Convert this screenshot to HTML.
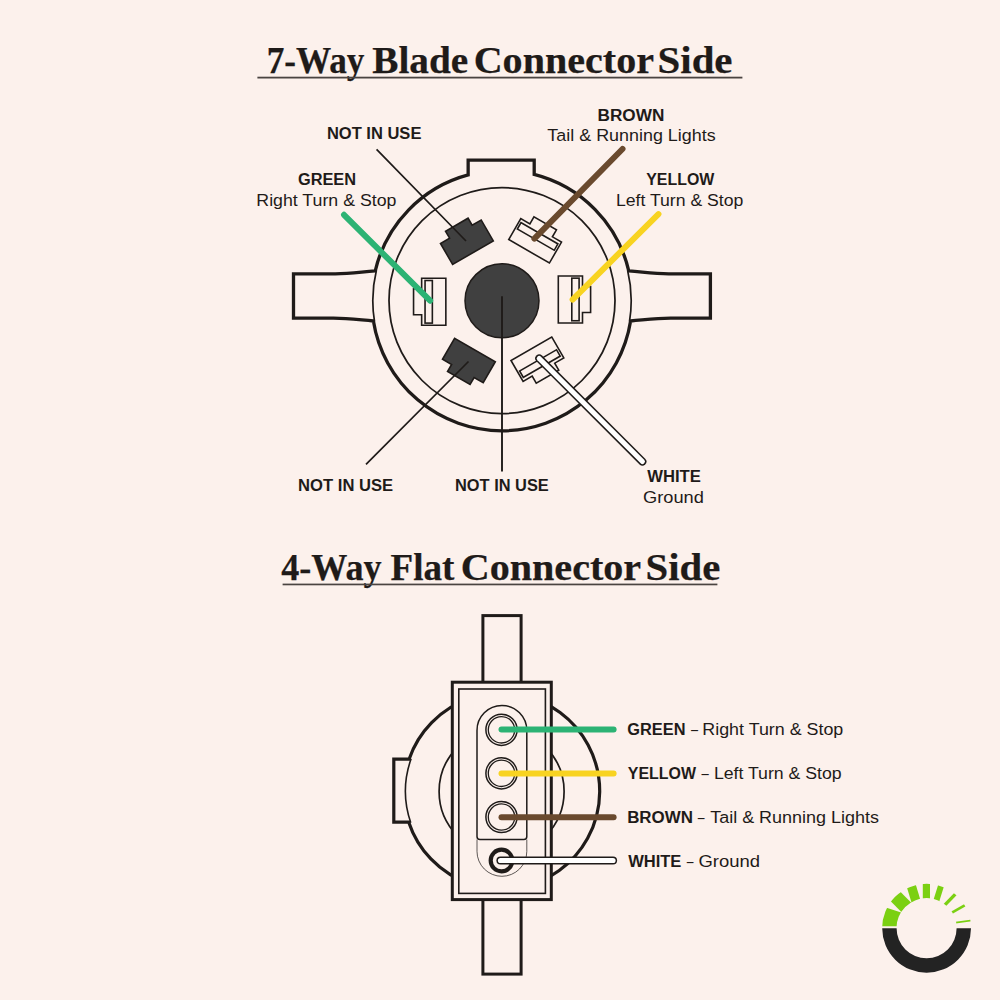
<!DOCTYPE html>
<html><head><meta charset="utf-8"><style>
html,body{margin:0;padding:0;background:#fcf1ec;overflow:hidden;width:1000px;height:1000px;}
svg{display:block;}
</style></head><body>
<svg width="1000" height="1000" viewBox="0 0 1000 1000">
<rect width="1000" height="1000" fill="#fcf1ec"/>
<path d="M468.15,174.88 V160.1 H534.2 V174.44 A130.2,130.2 0 0 1 628.74,270.8 C646.74,272.4 654.74,273.8 668.74,273.8 H710.4 V318.2 H670.59 C656.59,318.2 648.59,319.4 630.59,321 A130.2,130.2 0 0 1 373.41,321 C355.41,319.4 347.41,318.2 333.41,318.2 H293.5 V273.8 H335.26 C349.26,273.8 357.26,272.4 375.26,270.8 A130.2,130.2 0 0 1 468.15,174.88 Z" fill="none" stroke="#1f1b19" stroke-width="3.3" stroke-linejoin="miter"/>
<path d="M627.6,270.3 A129.2,129.2 0 0 1 629.5,321.5 M374.5,321.5 A129.2,129.2 0 0 1 376.4,270.3" fill="none" stroke="#1f1b19" stroke-width="1.7"/>
<circle cx="502" cy="300.6" r="113" fill="none" stroke="#1f1b19" stroke-width="1.75"/>
<path d="M-12.1,-23.5 H12.1 V-13 H20.2 V13 H12.1 V23.5 H-12.1 Z" transform="translate(570.4,299.45) rotate(0)" fill="none" stroke="#1f1b19" stroke-width="1.6"/><rect x="1.4" y="-21.3" width="7.3" height="42.6" transform="translate(570.4,299.45) rotate(0)" fill="none" stroke="#1f1b19" stroke-width="1.6"/>
<path d="M-12.1,-23.5 H12.1 V-13 H20.2 V13 H12.1 V23.5 H-12.1 Z" transform="translate(535.1,240.8) rotate(-60)" fill="none" stroke="#1f1b19" stroke-width="1.6"/><rect x="1.4" y="-21.3" width="7.3" height="42.6" transform="translate(535.1,240.8) rotate(-60)" fill="none" stroke="#1f1b19" stroke-width="1.6"/>
<path d="M-12.1,-23.5 H12.1 V-13 H20.2 V13 H12.1 V23.5 H-12.1 Z" transform="translate(466.9,242.2) rotate(-120)" fill="#404040" stroke="#1f1b19" stroke-width="1.6" stroke-linejoin="miter"/>
<path d="M-12.1,-23.5 H12.1 V-13 H20.2 V13 H12.1 V23.5 H-12.1 Z" transform="translate(433.75,301.8) rotate(-180)" fill="none" stroke="#1f1b19" stroke-width="1.6"/><rect x="1.4" y="-21.3" width="7.3" height="42.6" transform="translate(433.75,301.8) rotate(-180)" fill="none" stroke="#1f1b19" stroke-width="1.6"/>
<path d="M-12.1,-23.5 H12.1 V-13 H20.2 V13 H12.1 V23.5 H-12.1 Z" transform="translate(468.9,360.5) rotate(-240)" fill="#404040" stroke="#1f1b19" stroke-width="1.6" stroke-linejoin="miter"/>
<path d="M-12.1,-23.5 H12.1 V-13 H20.2 V13 H12.1 V23.5 H-12.1 Z" transform="translate(537.4,359.2) rotate(-300)" fill="none" stroke="#1f1b19" stroke-width="1.6"/><rect x="1.4" y="-21.3" width="7.3" height="42.6" transform="translate(537.4,359.2) rotate(-300)" fill="none" stroke="#1f1b19" stroke-width="1.6"/>
<circle cx="502" cy="300.8" r="37" fill="#404040" stroke="#1f1b19" stroke-width="1.5"/>
<path d="M376.6,149.4 L466,241 M366,464.4 L468.5,361.5" fill="none" stroke="#1f1b19" stroke-width="1.7"/>
<path d="M502,296.3 V471.4" fill="none" stroke="#1f1b19" stroke-width="1.9"/>
<path d="M344,214.8 L430.1,300.7" stroke="#2cb374" stroke-width="6" stroke-linecap="round"/>
<path d="M622.5,149 L534.4,238.6" stroke="#6a4a2e" stroke-width="6" stroke-linecap="round"/>
<path d="M658.45,214.1 L572.6,299.6" stroke="#f8d321" stroke-width="6" stroke-linecap="round"/>
<path d="M539.2,358.4 L642.4,461.6" stroke="#1f1b19" stroke-width="8" stroke-linecap="round"/>
<path d="M539.2,358.4 L642.4,461.6" stroke="#ffffff" stroke-width="5" stroke-linecap="round"/>
<path d="M408.73,822.2 H393.8 V759.2 H409.07 A98,98 0 1 1 408.73,822.2 Z" fill="none" stroke="#1f1b19" stroke-width="3.2"/>
<path d="M411.11,758.7 A97,97 0 0 0 410.76,822.7" fill="none" stroke="#1f1b19" stroke-width="1.6"/>
<circle cx="501.6" cy="791.5" r="62.5" fill="none" stroke="#1f1b19" stroke-width="1.7"/>
<rect x="482.9" y="615.6" width="38.2" height="70" fill="#fcf1ec" stroke="#1f1b19" stroke-width="3"/>
<rect x="482.9" y="895" width="38.2" height="79.1" fill="#fcf1ec" stroke="#1f1b19" stroke-width="3"/>
<rect x="452.3" y="682.2" width="99" height="217.4" fill="#fcf1ec" stroke="#1f1b19" stroke-width="3"/>
<rect x="458.8" y="689" width="86.6" height="204.4" fill="none" stroke="#1f1b19" stroke-width="1.6"/>
<path d="M477.0,836.5 V730.4 A24.9,24.9 0 0 1 526.8,730.4 V836.5 Q526.8,839.5 523.8,839.5 H480.0 Q477.0,839.5 477.0,836.5 Z" fill="none" stroke="#1f1b19" stroke-width="1.5"/>
<path d="M477.0,839.5 V851.4 A24.9,24.9 0 0 0 526.8,851.4 V839.5" fill="none" stroke="#1f1b19" stroke-width="0.9" opacity="0.8"/>
<circle cx="501.5" cy="729.8" r="15.6" fill="none" stroke="#1f1b19" stroke-width="1.5"/>
<circle cx="501.5" cy="729.8" r="13.2" fill="none" stroke="#1f1b19" stroke-width="1.3"/>
<circle cx="501.5" cy="773.3" r="15.6" fill="none" stroke="#1f1b19" stroke-width="1.5"/>
<circle cx="501.5" cy="773.3" r="13.2" fill="none" stroke="#1f1b19" stroke-width="1.3"/>
<circle cx="501.5" cy="817.0" r="15.6" fill="none" stroke="#1f1b19" stroke-width="1.5"/>
<circle cx="501.5" cy="817.0" r="13.2" fill="none" stroke="#1f1b19" stroke-width="1.3"/>
<circle cx="501.5" cy="860.5" r="10.8" fill="none" stroke="#1f1b19" stroke-width="4.2"/>
<path d="M501.5,729.6 H613.6" stroke="#2cb374" stroke-width="6" stroke-linecap="round"/>
<path d="M501.5,773.5 H613.6" stroke="#f8d321" stroke-width="6" stroke-linecap="round"/>
<path d="M501.5,817.3 H613.6" stroke="#6a4a2e" stroke-width="6" stroke-linecap="round"/>
<path d="M500.5,860.5 H613" stroke="#1f1b19" stroke-width="8.2" stroke-linecap="round"/>
<path d="M500.5,860.5 H613" stroke="#ffffff" stroke-width="5.2" stroke-linecap="round"/>
<path d="M882.2,928.3 A44.4,44.4 0 0 0 971,928.3 L956.6,928.3 A30,30 0 0 1 896.6,928.3 Z" fill="#232323"/>
<clipPath id="ann"><path clip-rule="evenodd" d="M882.1,928.3 a44.5,44.5 0 1 0 89,0 a44.5,44.5 0 1 0 -89,0 Z M896.4,928.3 a30.2,30.2 0 1 0 60.4,0 a30.2,30.2 0 1 0 -60.4,0 Z"/></clipPath>
<g clip-path="url(#ann)" fill="#7bd012"><path d="M875,926.3 H905 V913.8 L875,904.1 Z"/><path d="M909.67,910.76 L891.58,892.49" stroke="#7bd012" stroke-width="13.6"/><path d="M917.21,905.24 L909.79,881.01" stroke="#7bd012" stroke-width="9.3"/><path d="M926.4,903.8 L926.4,877.7" stroke="#7bd012" stroke-width="7.2"/><path d="M934.92,905.33 L942.58,880.67" stroke="#7bd012" stroke-width="6.0"/><path d="M941.32,908.61 L959.48,889.89" stroke="#7bd012" stroke-width="3.3"/><path d="M947.08,915.46 L969.52,902.74" stroke="#7bd012" stroke-width="2.6"/><path d="M950.15,923.3 L976.15,919.8" stroke="#7bd012" stroke-width="1.8"/></g>
<text x="266.76" y="73.00" font-family="Liberation Serif, serif" font-size="38" font-weight="bold" fill="#1f1b19" textLength="97.71" lengthAdjust="spacingAndGlyphs" stroke="#1f1b19" stroke-width="0.25">7-Way</text>
<text x="372.21" y="73.00" font-family="Liberation Serif, serif" font-size="38" font-weight="bold" fill="#1f1b19" textLength="95.95" lengthAdjust="spacingAndGlyphs" stroke="#1f1b19" stroke-width="0.25">Blade</text>
<text x="473.65" y="73.00" font-family="Liberation Serif, serif" font-size="38" font-weight="bold" fill="#1f1b19" textLength="180.37" lengthAdjust="spacingAndGlyphs" stroke="#1f1b19" stroke-width="0.25">Connector</text>
<text x="657.57" y="73.00" font-family="Liberation Serif, serif" font-size="38" font-weight="bold" fill="#1f1b19" textLength="74.92" lengthAdjust="spacingAndGlyphs" stroke="#1f1b19" stroke-width="0.25">Side</text>
<text x="281.31" y="580.20" font-family="Liberation Serif, serif" font-size="38" font-weight="bold" fill="#1f1b19" textLength="100.26" lengthAdjust="spacingAndGlyphs" stroke="#1f1b19" stroke-width="0.25">4-Way</text>
<text x="390.51" y="580.20" font-family="Liberation Serif, serif" font-size="38" font-weight="bold" fill="#1f1b19" textLength="63.85" lengthAdjust="spacingAndGlyphs" stroke="#1f1b19" stroke-width="0.25">Flat</text>
<text x="460.72" y="580.20" font-family="Liberation Serif, serif" font-size="38" font-weight="bold" fill="#1f1b19" textLength="180.43" lengthAdjust="spacingAndGlyphs" stroke="#1f1b19" stroke-width="0.25">Connector</text>
<text x="645.59" y="580.20" font-family="Liberation Serif, serif" font-size="38" font-weight="bold" fill="#1f1b19" textLength="74.68" lengthAdjust="spacingAndGlyphs" stroke="#1f1b19" stroke-width="0.25">Side</text>
<text x="326.88" y="138.80" font-family="Liberation Sans, sans-serif" font-size="16.8" font-weight="bold" fill="#1f1b19" textLength="94.54" lengthAdjust="spacingAndGlyphs">NOT IN USE</text>
<text x="297.92" y="184.80" font-family="Liberation Sans, sans-serif" font-size="16.8" font-weight="bold" fill="#1f1b19" textLength="58.18" lengthAdjust="spacingAndGlyphs">GREEN</text>
<text x="256.33" y="205.60" font-family="Liberation Sans, sans-serif" font-size="16.8" font-weight="normal" fill="#1f1b19" textLength="140.11" lengthAdjust="spacingAndGlyphs">Right Turn &amp; Stop</text>
<text x="597.57" y="120.60" font-family="Liberation Sans, sans-serif" font-size="16.8" font-weight="bold" fill="#1f1b19" textLength="66.77" lengthAdjust="spacingAndGlyphs">BROWN</text>
<text x="547.38" y="141.00" font-family="Liberation Sans, sans-serif" font-size="16.8" font-weight="normal" fill="#1f1b19" textLength="168.29" lengthAdjust="spacingAndGlyphs">Tail &amp; Running Lights</text>
<text x="646.22" y="184.80" font-family="Liberation Sans, sans-serif" font-size="16.8" font-weight="bold" fill="#1f1b19" textLength="68.10" lengthAdjust="spacingAndGlyphs">YELLOW</text>
<text x="615.95" y="206.10" font-family="Liberation Sans, sans-serif" font-size="16.8" font-weight="normal" fill="#1f1b19" textLength="127.43" lengthAdjust="spacingAndGlyphs">Left Turn &amp; Stop</text>
<text x="298.12" y="490.60" font-family="Liberation Sans, sans-serif" font-size="16.8" font-weight="bold" fill="#1f1b19" textLength="95.03" lengthAdjust="spacingAndGlyphs">NOT IN USE</text>
<text x="455.04" y="490.60" font-family="Liberation Sans, sans-serif" font-size="16.8" font-weight="bold" fill="#1f1b19" textLength="93.78" lengthAdjust="spacingAndGlyphs">NOT IN USE</text>
<text x="647.21" y="482.15" font-family="Liberation Sans, sans-serif" font-size="16.8" font-weight="bold" fill="#1f1b19" textLength="53.60" lengthAdjust="spacingAndGlyphs">WHITE</text>
<text x="643.00" y="503.20" font-family="Liberation Sans, sans-serif" font-size="16.8" font-weight="normal" fill="#1f1b19" textLength="60.87" lengthAdjust="spacingAndGlyphs">Ground</text>
<text x="627.37" y="735.40" font-family="Liberation Sans, sans-serif" font-size="16.0" font-weight="bold" fill="#1f1b19" textLength="58.11" lengthAdjust="spacingAndGlyphs">GREEN</text>
<text x="690.88" y="735.40" font-family="Liberation Sans, sans-serif" font-size="16.0" font-weight="normal" fill="#1f1b19" textLength="7.07" lengthAdjust="spacingAndGlyphs">–</text>
<text x="702.31" y="735.40" font-family="Liberation Sans, sans-serif" font-size="16.0" font-weight="normal" fill="#1f1b19" textLength="141.01" lengthAdjust="spacingAndGlyphs">Right Turn &amp; Stop</text>
<text x="627.87" y="779.30" font-family="Liberation Sans, sans-serif" font-size="16.0" font-weight="bold" fill="#1f1b19" textLength="68.08" lengthAdjust="spacingAndGlyphs">YELLOW</text>
<text x="701.53" y="779.30" font-family="Liberation Sans, sans-serif" font-size="16.0" font-weight="normal" fill="#1f1b19" textLength="7.27" lengthAdjust="spacingAndGlyphs">–</text>
<text x="713.90" y="779.30" font-family="Liberation Sans, sans-serif" font-size="16.0" font-weight="normal" fill="#1f1b19" textLength="127.77" lengthAdjust="spacingAndGlyphs">Left Turn &amp; Stop</text>
<text x="627.16" y="822.90" font-family="Liberation Sans, sans-serif" font-size="16.0" font-weight="bold" fill="#1f1b19" textLength="65.73" lengthAdjust="spacingAndGlyphs">BROWN</text>
<text x="697.77" y="822.90" font-family="Liberation Sans, sans-serif" font-size="16.0" font-weight="normal" fill="#1f1b19" textLength="6.79" lengthAdjust="spacingAndGlyphs">–</text>
<text x="710.19" y="822.90" font-family="Liberation Sans, sans-serif" font-size="16.0" font-weight="normal" fill="#1f1b19" textLength="168.81" lengthAdjust="spacingAndGlyphs">Tail &amp; Running Lights</text>
<text x="628.15" y="866.50" font-family="Liberation Sans, sans-serif" font-size="16.0" font-weight="bold" fill="#1f1b19" textLength="53.25" lengthAdjust="spacingAndGlyphs">WHITE</text>
<text x="686.65" y="866.50" font-family="Liberation Sans, sans-serif" font-size="16.0" font-weight="normal" fill="#1f1b19" textLength="6.75" lengthAdjust="spacingAndGlyphs">–</text>
<text x="698.48" y="866.50" font-family="Liberation Sans, sans-serif" font-size="16.0" font-weight="normal" fill="#1f1b19" textLength="61.55" lengthAdjust="spacingAndGlyphs">Ground</text>
<rect x="257.4" y="76.7" width="485" height="1.8" fill="#4a4441"/>
<rect x="282.6" y="583.6" width="434.8" height="1.7" fill="#4a4441"/>
</svg>
</body></html>
